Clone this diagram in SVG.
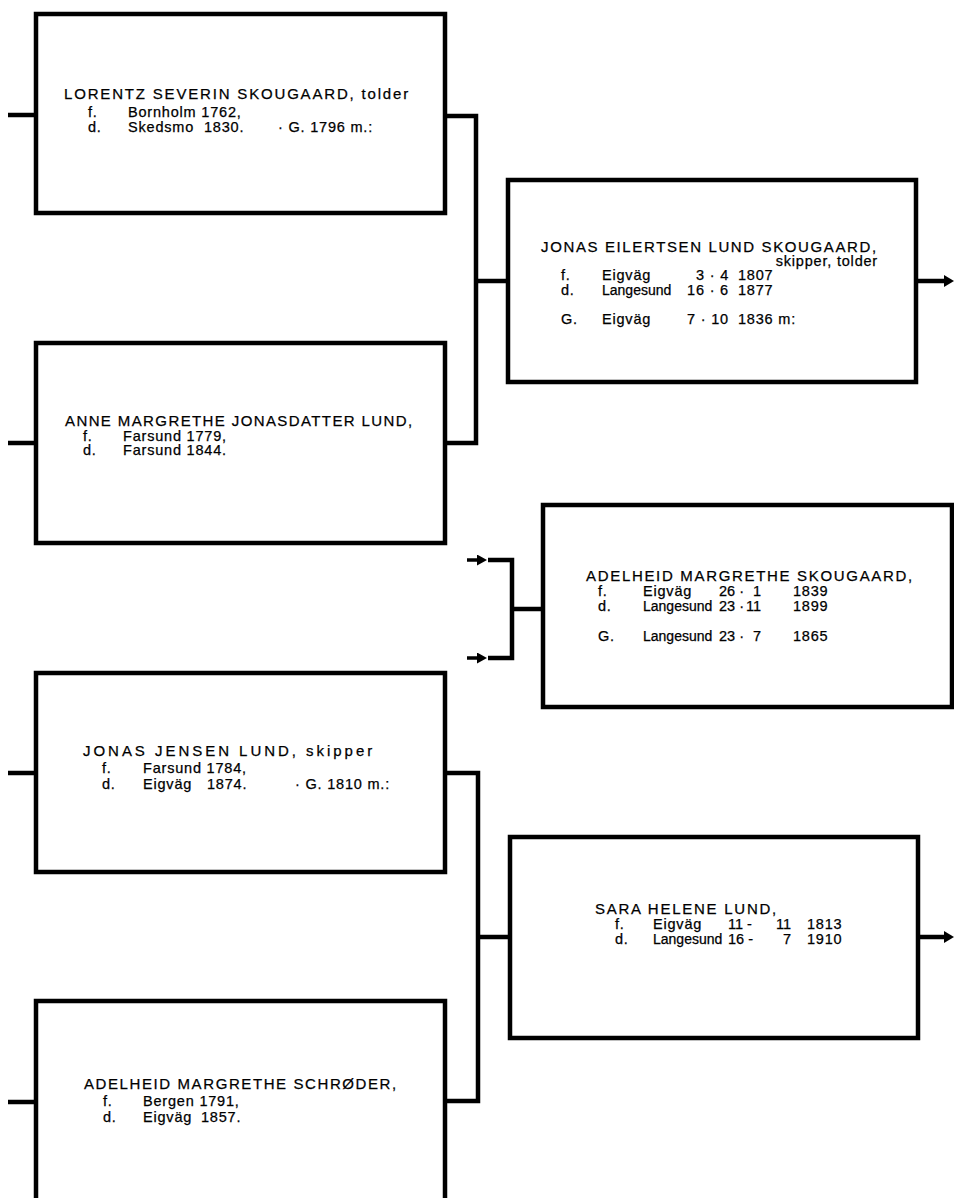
<svg xmlns="http://www.w3.org/2000/svg" width="954" height="1198" viewBox="0 0 954 1198">
<style>
.box{fill:#fff;stroke:#000;stroke-width:4.5}
.ln{fill:none;stroke:#000;stroke-width:4.5;stroke-linejoin:miter;stroke-linecap:butt}
.thin{fill:none;stroke:#000;stroke-width:3.5}
text{font-family:"Liberation Sans",Arial,sans-serif;font-size:14.5px;fill:#000;stroke:#000;stroke-width:0.25;letter-spacing:0.8px}
.nm{font-size:15px}
.t{letter-spacing:0}
.ls{letter-spacing:0;font-size:14px}
.e{text-anchor:end}
</style>
<defs>
<marker id="ah" markerUnits="userSpaceOnUse" markerWidth="10" markerHeight="12" refX="0" refY="6" orient="auto"><path d="M0,0 L10,6 L0,12 z" fill="#000"/></marker>
<marker id="ahs" markerUnits="userSpaceOnUse" markerWidth="10" markerHeight="11" refX="0" refY="5.5" orient="auto"><path d="M0,0 L10,5.5 L0,11 z" fill="#000"/></marker>
</defs>
<g id="connectors">
<path class="ln" d="M8,115 H36"/>
<path class="ln" d="M8,443 H36"/>
<path class="ln" d="M8,773 H36"/>
<path class="ln" d="M8,1102 H36"/>
<path class="ln" d="M445,116 H476 V443 H445"/>
<path class="ln" d="M476,281 H508"/>
<path class="ln" d="M916,281 H944" marker-end="url(#ah)"/>
<path class="thin" d="M467,560 H477" marker-end="url(#ahs)"/>
<path class="thin" d="M467,658 H477" marker-end="url(#ahs)"/>
<path class="ln" d="M488,560 H512 V658 H488"/>
<path class="ln" d="M512,609 H543"/>
<path class="ln" d="M445,773 H478 V1101 H445"/>
<path class="ln" d="M478,937 H510"/>
<path class="ln" d="M918,937 H944" marker-end="url(#ah)"/>
</g>
<g id="n-lorentz">
<rect class="box" x="36" y="14" width="409" height="199"/>
<text class="nm" x="64" y="99" textLength="345" lengthAdjust="spacing">LORENTZ SEVERIN SKOUGAARD, tolder</text>
<text x="88" y="117">f.</text><text x="128" y="117">Bornholm 1762,</text>
<text x="88" y="132">d.</text><text x="128" y="132">Skedsmo</text><text x="204" y="132">1830.</text><text x="278" y="132">· G. 1796 m.:</text>
</g>
<g id="n-anne">
<rect class="box" x="36" y="343" width="409" height="200"/>
<text class="nm" x="65" y="426" textLength="348" lengthAdjust="spacing">ANNE MARGRETHE JONASDATTER LUND,</text>
<text x="83" y="441">f.</text><text x="123" y="441">Farsund 1779,</text>
<text x="83" y="455">d.</text><text x="123" y="455">Farsund 1844.</text>
</g>
<g id="n-jonas-eilertsen">
<rect class="box" x="508" y="180" width="408" height="202"/>
<text class="nm" x="541" y="252" textLength="336" lengthAdjust="spacing">JONAS EILERTSEN LUND SKOUGAARD,</text>
<text x="878" y="266" class="e">skipper, tolder</text>
<text x="561" y="280">f.</text><text x="602" y="280">Eigväg</text><text x="729" y="280" class="e">3 · 4</text><text x="738" y="280">1807</text>
<text x="561" y="295">d.</text><text x="602" y="295" class="ls">Langesund</text><text x="729" y="295" class="e">16 · 6</text><text x="738" y="295">1877</text>
<text x="561" y="324">G.</text><text x="602" y="324">Eigväg</text><text x="729" y="324" class="e">7 · 10</text><text x="738" y="324">1836 m:</text>
</g>
<g id="n-adelheid-skougaard">
<rect class="box" x="543" y="505" width="409" height="202"/>
<text class="nm" x="586" y="581" textLength="327" lengthAdjust="spacing">ADELHEID MARGRETHE SKOUGAARD,</text>
<text x="598" y="596">f.</text><text x="643" y="596">Eigväg</text><text x="719" y="596" class="t">26 ·</text><text x="761" y="596" class="e t">1</text><text x="793" y="596">1839</text>
<text x="598" y="611">d.</text><text x="643" y="611" class="ls">Langesund</text><text x="719" y="611" class="t">23 ·</text><text x="761" y="611" class="e t">11</text><text x="793" y="611">1899</text>
<text x="598" y="641">G.</text><text x="643" y="641" class="ls">Langesund</text><text x="719" y="641" class="t">23 ·</text><text x="761" y="641" class="e t">7</text><text x="793" y="641">1865</text>
</g>
<g id="n-jonas-jensen">
<rect class="box" x="36" y="673" width="409" height="199"/>
<text class="nm" x="83" y="756" textLength="290" lengthAdjust="spacing">JONAS JENSEN LUND, skipper</text>
<text x="102" y="773">f.</text><text x="143" y="773">Farsund 1784,</text>
<text x="102" y="789">d.</text><text x="143" y="789">Eigväg</text><text x="207" y="789">1874.</text><text x="295" y="789">· G. 1810 m.:</text>
</g>
<g id="n-sara">
<rect class="box" x="510" y="837" width="408" height="201"/>
<text class="nm" x="595" y="914" textLength="182" lengthAdjust="spacing">SARA HELENE LUND,</text>
<text x="615" y="929">f.</text><text x="653" y="929">Eigväg</text><text x="728" y="929" class="t">11 -</text><text x="791" y="929" class="e t">11</text><text x="807" y="929">1813</text>
<text x="615" y="944">d.</text><text x="653" y="944" class="ls">Langesund</text><text x="728" y="944" class="t">16 -</text><text x="791" y="944" class="e t">7</text><text x="807" y="944">1910</text>
</g>
<g id="n-adelheid-schroder">
<rect class="box" x="36" y="1001" width="409" height="210"/>
<text class="nm" x="84" y="1089" textLength="313" lengthAdjust="spacing">ADELHEID MARGRETHE SCHRØDER,</text>
<text x="103" y="1106">f.</text><text x="143" y="1106">Bergen 1791,</text>
<text x="103" y="1122">d.</text><text x="143" y="1122">Eigväg</text><text x="201" y="1122">1857.</text>
</g>
</svg>
